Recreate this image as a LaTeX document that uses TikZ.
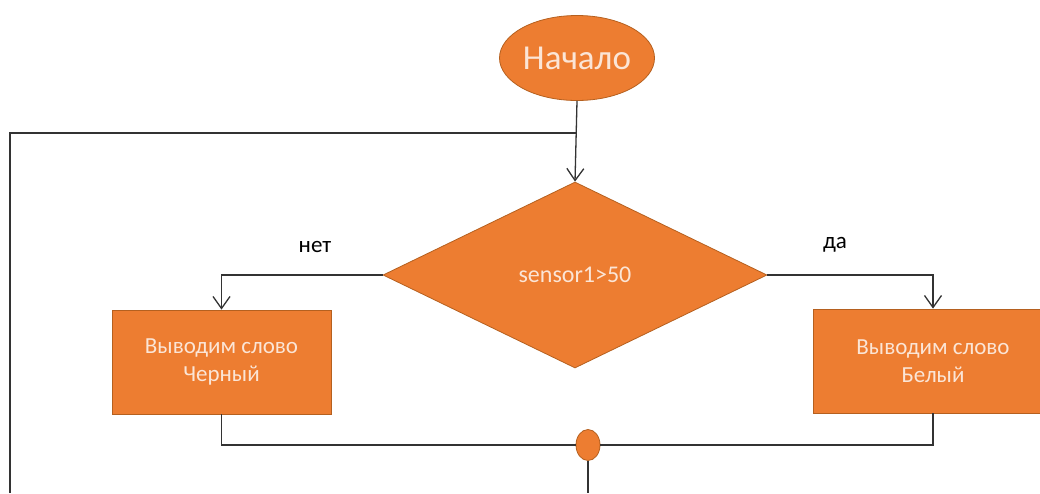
\documentclass[tikz,border=0pt]{standalone}
\usepackage{fontspec}
\setmainfont{Carlito}
\usetikzlibrary{shapes.geometric,arrows.meta}

\definecolor{oranzh}{HTML}{ED7D31}
\definecolor{oranzhkraj}{HTML}{B5601F}
\definecolor{krem}{HTML}{FBE5D6}

\tikzset{
  blok/.style={fill=oranzh, draw=oranzhkraj, line width=0.8pt, text=krem, align=center, inner sep=0pt},
  linija/.style={draw=black!80, line width=1.3pt},
  strelka/.style={linija, -{Straight Barb[length=12pt,width=17pt,line width=1.3pt]}},
  podpis/.style={font=\fontsize{23}{27}\selectfont, text=black}
}

\begin{document}
\begin{tikzpicture}[x=1pt, y=-1pt]
        \useasboundingbox (0,0) rectangle (1040,493);

        % start
        \node[blok, ellipse, minimum width=155pt, minimum height=85pt, font=\fontsize{35}{40}\selectfont] (nachalo) at (577,58) {Начало};

        % condition
        \node[blok, diamond, minimum width=384pt, minimum height=186pt, font=\fontsize{24}{28}\selectfont] (uslovie) at (575,275) {sensor1>50};

        % outputs
        \node[blok, rectangle, minimum width=219pt, minimum height=104pt, font=\fontsize{23}{28}\selectfont] (chernyj) at (221.5,362) {Выводим слово\\Черный};
        \node[blok, rectangle, minimum width=240pt, minimum height=104pt, font=\fontsize{23}{28}\selectfont] (belyj) at (933,361) {Выводим слово\\Белый};

        % merge point
        \node[blok, ellipse, minimum width=24pt, minimum height=31pt] (sliyanie) at (588,445) {};

        \node[podpis] (net) at (315,247) {нет};
        \node[podpis] (da) at (835,245) {да};

        \coordinate (vozvrat) at (10,493);
        \coordinate (vyhod) at (588,493);

        \draw[strelka] (nachalo.south) -- (uslovie.north);
        \draw[linija] (vozvrat) -- (10,133) -- (577,133);
        \draw[strelka] (uslovie.west) -| (chernyj.north);
        \draw[strelka] (uslovie.east) -| (belyj.north);
        \draw[linija] (chernyj.south) |- (sliyanie.west);
        \draw[linija] (belyj.south) |- (sliyanie.east);
        \draw[linija] (sliyanie.south) -- (vyhod);

    \end{tikzpicture}
\end{document}
